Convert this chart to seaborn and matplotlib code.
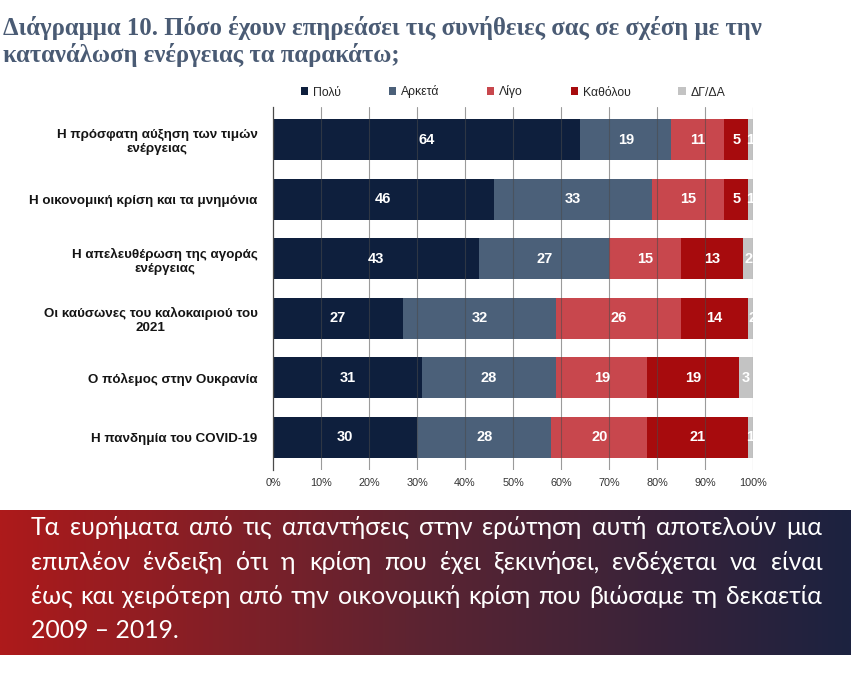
import numpy as np
import pandas as pd
import matplotlib
matplotlib.use("Agg")
import matplotlib.pyplot as plt
from matplotlib.patches import Patch
from matplotlib.colors import LinearSegmentedColormap
import seaborn as sns

# ---------------- data ----------------
categories = [
    "Η πρόσφατη αύξηση των τιμών\nενέργειας",
    "Η οικονομική κρίση και τα μνημόνια",
    "Η απελευθέρωση της αγοράς\nενέργειας",
    "Οι καύσωνες του καλοκαιριού του\n2021",
    "Ο πόλεμος στην Ουκρανία",
    "Η πανδημία του COVID-19",
]
series_names = ["Πολύ", "Αρκετά", "Λίγο", "Καθόλου", "ΔΓ/ΔΑ"]
polu = [64, 46, 43, 27, 31, 30]
arketa = [19, 33, 27, 32, 28, 28]
ligo = [11, 15, 15, 26, 19, 20]
katholou = [5, 5, 13, 14, 19, 21]
dg_da = [1, 1, 2, 2, 3, 1]
x_ticks = [0, 10, 20, 30, 40, 50, 60, 70, 80, 90, 100]
x_tick_labels = [f"{v}%" for v in x_ticks]

title_lines = [
    "Διάγραμμα 10. Πόσο έχουν επηρεάσει τις συνήθειες σας σε σχέση με την",
    "κατανάλωση ενέργειας τα παρακάτω;",
]
panel_lines = [
    "Τα ευρήματα από τις απαντήσεις στην ερώτηση αυτή αποτελούν μια",
    "επιπλέον ένδειξη ότι η κρίση που έχει ξεκινήσει, ενδέχεται να είναι",
    "έως και χειρότερη από την οικονομική κρίση που βιώσαμε τη δεκαετία",
    "2009 – 2019.",
]

colors = ["#0e1f3d", "#4b6079", "#c8474d", "#a70b0d", "#c3c3c3"]

# ---------------- figure ----------------
sns.set_theme(style="white")
plt.rcParams["font.family"] = ["Liberation Sans", "DejaVu Sans"]

W, H = 851, 681
fig = plt.figure(figsize=(W / 100, H / 100), dpi=100)
fig.patch.set_facecolor("white")

ax = fig.add_axes([273 / W, 1 - 470 / H, 480 / W, 363 / H])

values = np.array([polu, arketa, ligo, katholou, dg_da], dtype=float)  # (5, 6)
cum = np.cumsum(values, axis=0)
df = pd.DataFrame({"cat": categories})
for i in range(len(series_names) - 1, -1, -1):
    df["val"] = cum[i]
    sns.barplot(data=df, x="val", y="cat", orient="h", color=colors[i],
                saturation=1, width=0.69, ax=ax, linewidth=0, zorder=2)

# segment labels
starts = cum - values
for i in range(values.shape[0]):
    for j in range(values.shape[1]):
        v = values[i, j]
        ax.text(starts[i, j] + v / 2, j, f"{int(v)}", ha="center", va="center",
                color="white", fontsize=10.5, fontweight="bold", zorder=5)

ax.set_xlim(0, 100)
ax.set_ylim(5.555, -0.555)
ax.set_xticks(x_ticks)
ax.set_xticklabels(x_tick_labels, fontsize=7.8, color="#333333")
ax.set_xlabel("")
ax.set_ylabel("")
ax.tick_params(axis="x", length=0, pad=6)
ax.tick_params(axis="y", length=0, pad=11)
for t in ax.get_yticklabels():
    t.set_multialignment("center")
    t.set_fontsize(9.6)
    t.set_fontweight("bold")
    t.set_color("#141414")

for x in x_ticks[1:]:
    ax.axvline(x, color="#4a4a4a", lw=0.8, alpha=0.55, zorder=3, ymin=0, ymax=1.0)
for s in ["top", "right", "bottom"]:
    ax.spines[s].set_visible(False)
ax.spines["left"].set_color("#4a4a4a")
ax.spines["left"].set_linewidth(0.9)
ax.set_facecolor("none")

handles = [Patch(facecolor=c, edgecolor="none", label=n) for c, n in zip(colors, series_names)]
ax.legend(handles=handles, loc="center", bbox_to_anchor=(0.5, 1 + 15 / 363), ncol=5,
          frameon=False, fontsize=8.8, handlelength=0.6, handleheight=0.6,
          handletextpad=0.4, columnspacing=3.9, borderaxespad=0)

# ---------------- title ----------------
for tl, by in zip(title_lines, [35, 62]):
    fig.text(3 / W, 1 - by / H, tl, ha="left", va="baseline",
             fontsize=17.8, fontweight="bold", color="#4a5b74",
             family=["Liberation Serif", "DejaVu Serif"])

# ---------------- gradient panel ----------------
py0, py1 = 510, 655
pax = fig.add_axes([0, 1 - py1 / H, 1, (py1 - py0) / H])
cmap = LinearSegmentedColormap.from_list("g", ["#ad1a1b", "#5b2432", "#1c2240"])
grad = np.linspace(0, 1, 512).reshape(1, -1)
pax.imshow(grad, aspect="auto", cmap=cmap, extent=[0, 1, 0, 1])
pax.set_xlim(0, 1)
pax.set_ylim(0, 1)
pax.axis("off")

fig.canvas.draw()
renderer = fig.canvas.get_renderer()
left_px, right_px = 31, 822
baselines = [535, 570, 604, 638]
tfont = dict(fontsize=17.8, color="white", family=["Lato", "DejaVu Sans"],
             fontweight="normal", va="baseline", ha="left")
for li, (line, by) in enumerate(zip(panel_lines, baselines)):
    yf = 1 - by / H
    if li == len(panel_lines) - 1:
        fig.text(left_px / W, yf, line, **tfont)
        continue
    words = line.split(" ")
    objs = [fig.text(0, yf, w, **tfont) for w in words]
    widths = [o.get_window_extent(renderer).width for o in objs]
    gap = (right_px - left_px - sum(widths)) / (len(words) - 1)
    x = left_px
    for o, w in zip(objs, widths):
        o.set_x(x / W)
        x += w + gap

fig.savefig("out.png", dpi=100, facecolor="white")
